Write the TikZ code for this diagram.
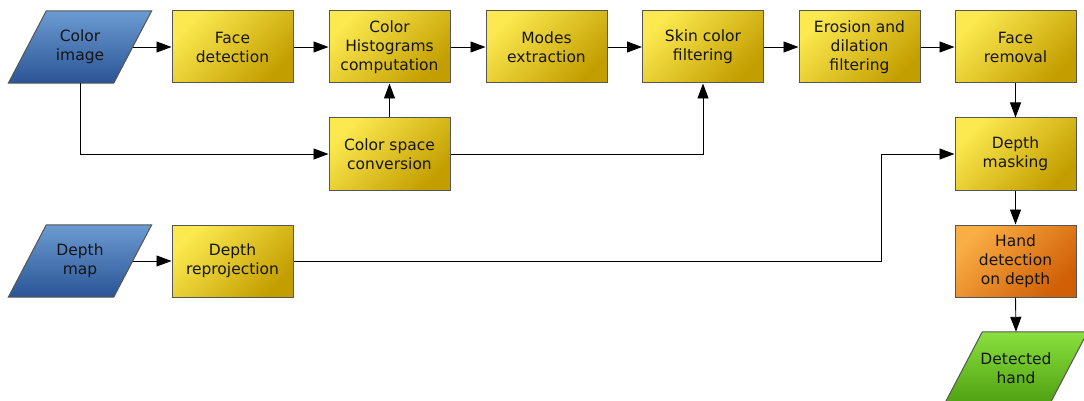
\documentclass[tikz,border=0pt]{standalone}
\usepackage{fontspec}
\setmainfont{DejaVu Sans}
\usetikzlibrary{arrows.meta,calc,backgrounds}
\definecolor{ylight}{HTML}{FBE94F}
\definecolor{ydark}{HTML}{C39E00}
\definecolor{blight}{HTML}{6C9BD2}
\definecolor{bdark}{HTML}{2A5495}
\definecolor{olight}{HTML}{F9AD45}
\definecolor{odark}{HTML}{D05F05}
\definecolor{glight}{HTML}{8AE03E}
\definecolor{gdark}{HTML}{4EA010}
\definecolor{boxedge}{HTML}{555555}
\definecolor{txt}{HTML}{151515}
\tikzset{
  lbl/.style={align=center, font=\fontsize{15.5}{19}\selectfont, text=txt, inner sep=0pt},
  proc/.style={lbl, draw=boxedge, line width=1pt, minimum width=121pt, minimum height=72pt,
    shading=axis, top color=ylight, bottom color=ydark, shading angle=45},
  handbox/.style={proc, top color=olight, bottom color=odark, shading angle=45},
  io/.style={lbl, minimum width=105pt, minimum height=72pt},
  parashape/.style={draw=boxedge, line width=1pt, shading=axis, shading angle=45},
  link/.style={draw=black, line width=0.9pt, -{Triangle[length=15pt,width=11pt]}},
}
\newcommand\drawpara[3]{%
  \begin{pgfonlayer}{background}
  \path[parashape, top color=#2, bottom color=#3]
    ($(#1.north west)+(19,0)$) -- ($(#1.north east)+(19,0)$) --
    ($(#1.south east)+(-19,0)$) -- ($(#1.south west)+(-19,0)$) -- cycle;
  \end{pgfonlayer}}
\begin{document}
\begin{tikzpicture}[x=1pt,y=-1pt]
\useasboundingbox (0,0) rectangle (1084,401);
\clip (0,0) rectangle (1084,401);
% input / output shapes
\node[io] (cimg) at (80,47) {Color\\image};
\drawpara{cimg}{blight}{bdark}
\node[io] (dmap) at (80,261) {Depth\\map};
\drawpara{dmap}{blight}{bdark}
\node[io] (dhand) at (1016,368) {Detected\\hand};
\drawpara{dhand}{glight}{gdark}
% process boxes
\node[proc] (face) at (232.5,47) {Face\\detection};
\node[proc] (hist) at (389.5,47) {Color\\Histograms\\computation};
\node[proc] (modes) at (546.5,47) {Modes\\extraction};
\node[proc] (skin) at (703,47) {Skin color\\filtering};
\node[proc] (erode) at (859.5,47) {Erosion and\\dilation\\filtering};
\node[proc] (frem) at (1015.5,47) {Face\\removal};
\node[proc] (csc) at (389.5,154) {Color space\\conversion};
\node[proc] (dmask) at (1015.5,154) {Depth\\masking};
\node[proc] (drep) at (232.5,261) {Depth\\reprojection};
\node[handbox] (hdet) at (1015.5,261) {Hand\\detection\\on depth};
% connectors
\draw[link] (cimg) -- (face);
\draw[link] (face) -- (hist);
\draw[link] (hist) -- (modes);
\draw[link] (modes) -- (skin);
\draw[link] (skin) -- (erode);
\draw[link] (erode) -- (frem);
\draw[link] (csc) -- (hist);
\draw[link] (cimg.south) |- (csc.west);
\draw[link] (csc.east) -| (skin.south);
\draw[link] (frem) -- (dmask);
\draw[link] (dmask) -- (hdet);
\draw[link] (hdet.south) -- (dhand.north);
\coordinate (bend) at (881.5,261);
\draw[link] (drep.east) -- (bend) |- (dmask.west);
\draw[link] (dmap) -- (drep);
\end{tikzpicture}
\end{document}
